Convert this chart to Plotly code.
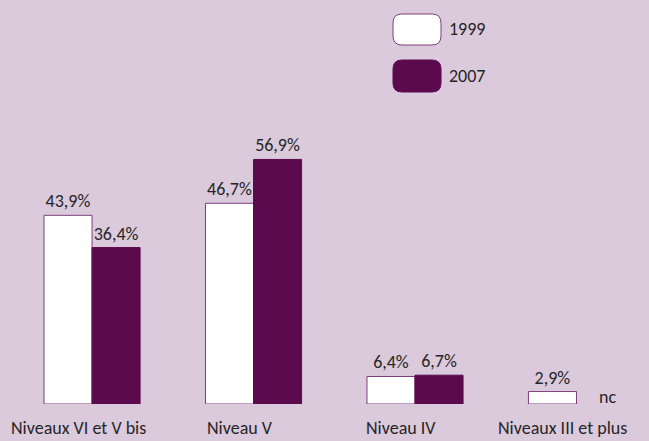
import plotly.graph_objects as go

categories = ["Niveaux VI et V bis", "Niveau V", "Niveau IV", "Niveaux III et plus"]
values_1999 = [43.9, 46.7, 6.4, 2.9]
values_2007 = [36.4, 56.9, 6.7, None]
series_names = ["1999", "2007"]

W, H = 649, 441
PLOT_H = 404
BG = "#DBC9DC"
DARK = "#5C0A4E"
EDGE = "#7E3F7C"
TXT = "#262626"
FONT = "Carlito, Lato, 'Open Sans', sans-serif"
FS = 18

def fmt(v):
    return "" if v is None else f"{v:.1f}".replace(".", ",") + "%"

x_idx = list(range(len(categories)))

fig = go.Figure()
fig.add_trace(go.Bar(
    x=x_idx, y=values_1999, name=series_names[0],
    marker=dict(color="white", line=dict(color=EDGE, width=1)),
    text=[fmt(v) for v in values_1999], textposition="outside",
    textfont=dict(family=FONT, size=FS, color=TXT), cliponaxis=False,
))
fig.add_trace(go.Bar(
    x=x_idx, y=values_2007, name=series_names[1],
    marker=dict(color=DARK, line=dict(color=DARK, width=1)),
    text=[fmt(v) for v in values_2007], textposition="outside",
    textfont=dict(family=FONT, size=FS, color=TXT), cliponaxis=False,
))

# category labels
for i, c in enumerate(categories):
    fig.add_annotation(x=i, y=(PLOT_H - 428) / PLOT_H, xref="x", yref="paper",
                       text=c, showarrow=False, xshift=-14,
                       font=dict(family=FONT, size=FS, color=TXT),
                       xanchor="center", yanchor="middle")

# "nc" for missing 2007 value
for i, v in enumerate(values_2007):
    if v is None:
        fig.add_annotation(x=i, y=0, xref="x", yref="y", text="nc", showarrow=False,
                           xshift=31, yshift=7, font=dict(family=FONT, size=FS, color=TXT),
                           xanchor="center", yanchor="middle")

# custom legend with rounded boxes
def rrect(x0, y0, x1, y1, r):
    def px(x): return x / W
    def py(y): return (PLOT_H - y) / PLOT_H
    rx, ry = r / W, r / PLOT_H
    X0, X1 = px(x0), px(x1)
    Y0, Y1 = py(y1), py(y0)
    return (f"M {X0+rx},{Y0} L {X1-rx},{Y0} Q {X1},{Y0} {X1},{Y0+ry} "
            f"L {X1},{Y1-ry} Q {X1},{Y1} {X1-rx},{Y1} L {X0+rx},{Y1} "
            f"Q {X0},{Y1} {X0},{Y1-ry} L {X0},{Y0+ry} Q {X0},{Y0} {X0+rx},{Y0} Z")

legend_items = [(series_names[0], "white", EDGE, 14, 45), (series_names[1], DARK, DARK, 60, 92)]
for name, fill, line, y0, y1 in legend_items:
    fig.add_shape(type="path", path=rrect(393, y0, 441, y1, 9), xref="paper", yref="paper",
                  fillcolor=fill, line=dict(color=line, width=1))
    fig.add_annotation(x=447 / W, y=(PLOT_H - (y0 + y1) / 2) / PLOT_H, xref="paper", yref="paper",
                       text=name, showarrow=False, xanchor="left", yanchor="middle",
                       font=dict(family=FONT, size=FS, color=TXT))

fig.update_layout(
    width=W, height=H,
    margin=dict(l=0, r=0, t=0, b=H - PLOT_H, pad=0),
    paper_bgcolor=BG, plot_bgcolor=BG,
    barmode="group", bargap=0.405, bargroupgap=0,
    showlegend=False,
    xaxis=dict(range=[-0.57, 3.449], showticklabels=False, showgrid=False,
               zeroline=False, showline=False, ticks=""),
    yaxis=dict(range=[0, 94], visible=False),
    font=dict(family=FONT, color=TXT),
)

fig.write_html("out.html", config={"displayModeBar": False},
               post_script="document.body.style.margin='0';document.body.style.overflow='hidden';")
